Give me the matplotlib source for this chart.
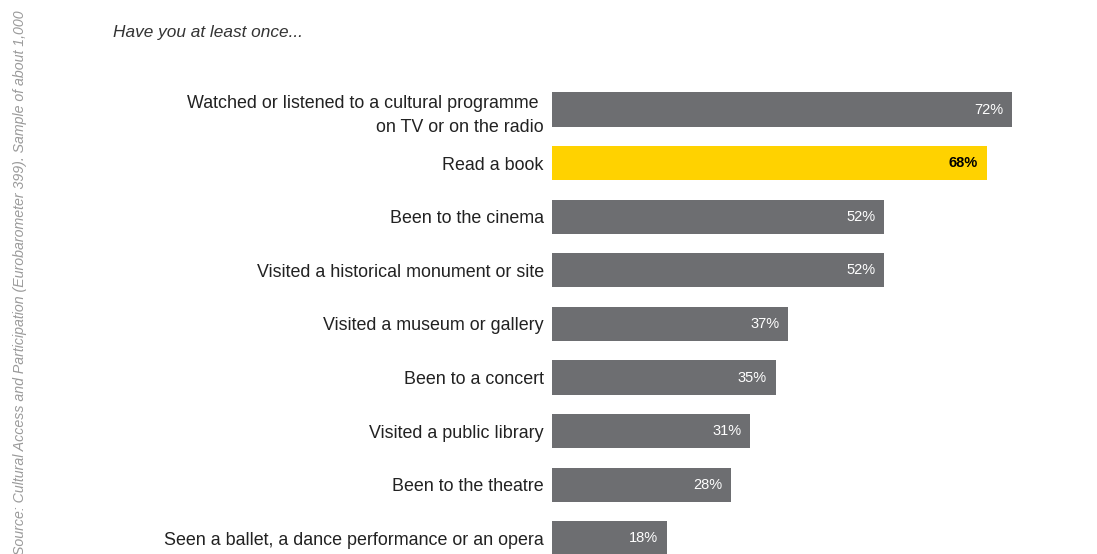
import matplotlib.pyplot as plt

# data
activities = ['Watched or listened to a cultural programme \non TV or on the radio',
              'Read a book',
              'Been to the cinema',
              'Visited a historical monument or site',
              'Visited a museum or gallery',
              'Been to a concert',
              'Visited a public library',
              'Been to the theatre',
              'Seen a ballet, a dance performance or an opera']
values = [72, 68, 52, 52, 37, 35, 31, 28, 18]
highlight = 'Read a book'

grey = '#6d6e71'
yellow = '#ffd200'

plt.rcParams['font.family'] = ['Liberation Sans', 'DejaVu Sans']

fig = plt.figure(figsize=(10.97, 5.54), dpi=100)
# axes: data 0 sits at x=552px, full height of figure
ax = fig.add_axes([552 / 1097, 0, 545 / 1097, 1])

colors = [yellow if a == highlight else grey for a in activities]
ypos = list(range(len(activities)))
ax.barh(ypos, values, height=0.635, color=colors)

px = 6.39  # pixels per percent
ax.set_xlim(0, 545 / px)
ax.set_ylim((554 - 109.5) / 53.6, -109.5 / 53.6)

for y, v, a in zip(ypos, values, activities):
    if a == highlight:
        ax.text(v - 1.4, y, f'{v}%', ha='right', va='center', fontsize=10.5,
                color='black', fontweight='bold')
    else:
        ax.text(v - 1.4, y, f'{v}%', ha='right', va='center', fontsize=10.5,
                color='white')

ax.set_yticks(ypos)
ax.set_yticklabels(activities, fontsize=12.9, color='#222222', ha='right')
ax.tick_params(axis='y', length=0, pad=6)
ax.tick_params(axis='x', bottom=False, labelbottom=False)
ax.get_yticklabels()[0].set_linespacing(1.55)
for s in ax.spines.values():
    s.set_visible(False)

fig.text(113 / 1097, 1 - 33 / 554, 'Have you at least once...', fontsize=12.4,
         style='italic', color='#333333', ha='left', va='center')
fig.text(20 / 1097, 1 - 10 / 554,
         'Source: Cultural Access and Participation (Eurobarometer 399). Sample of about 1,000',
         rotation=90, fontsize=10.2, style='italic', color='#9a9a9a', ha='center', va='top')

fig.savefig('out.png', dpi=100)
